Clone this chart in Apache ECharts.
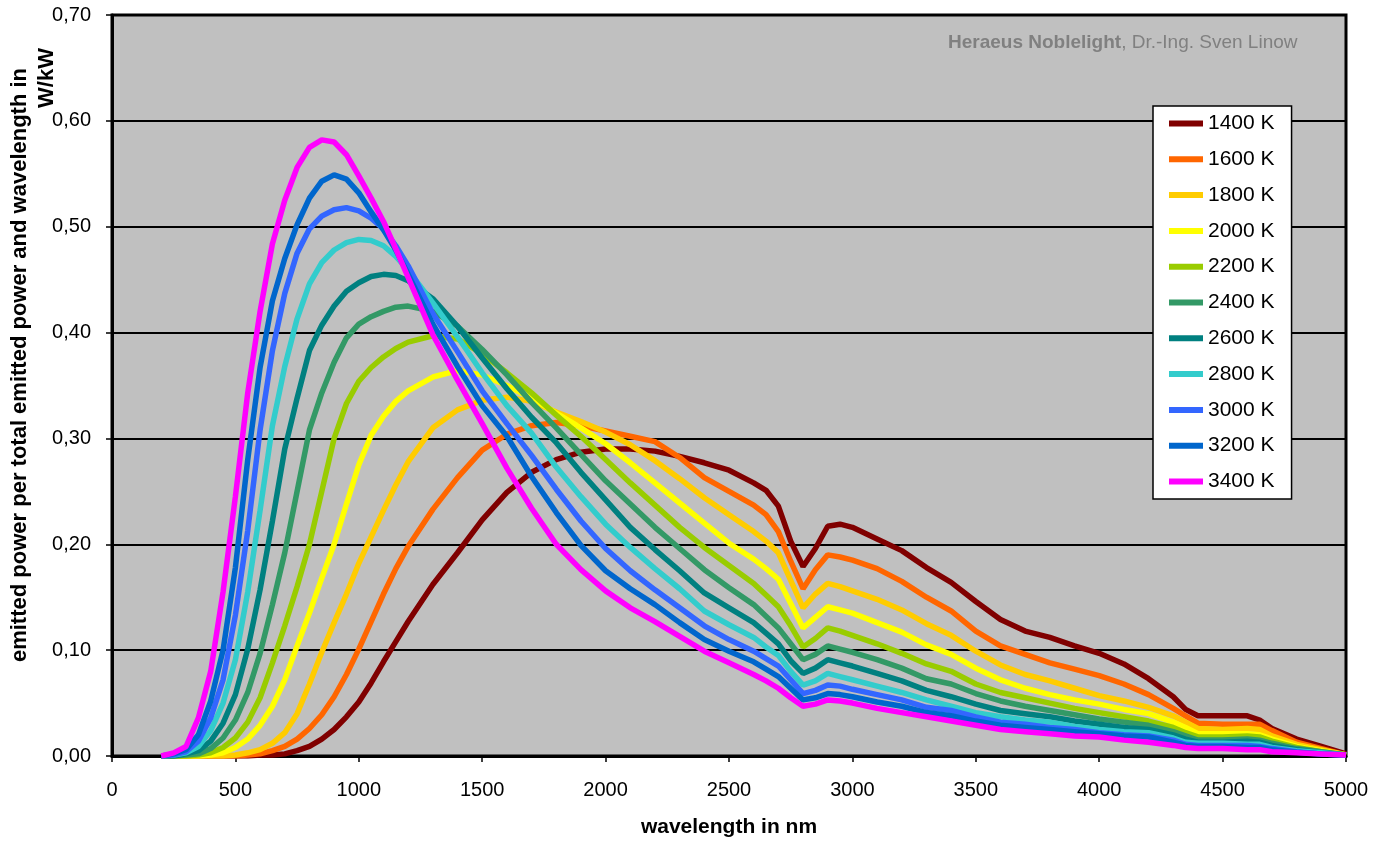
<!DOCTYPE html>
<html>
<head>
<meta charset="utf-8">
<script src="https://cdn.jsdelivr.net/npm/echarts@6/dist/echarts.min.js"></script>
<style>
  html, body { margin: 0; padding: 0; background: #fff; }
  #chart { width: 1379px; height: 843px; }
</style>
</head>
<body>
<div id="chart"></div>
<script>
// wavelength in nm (shared x values)
const wavelengths = [200, 250, 300, 350, 400, 450, 500, 550, 600, 650, 700, 750, 800, 850, 900, 950, 1000, 1050, 1100, 1150, 1200,
  1300, 1400, 1500, 1600, 1700, 1800, 1900, 2000, 2100, 2200, 2300, 2400, 2500, 2600, 2650, 2700, 2750, 2800, 2850, 2900, 2950, 3000,
  3100, 3200, 3300, 3400, 3500, 3600, 3700, 3800, 3900, 4000, 4100, 4200, 4300, 4350, 4400, 4500, 4600, 4650, 4700, 4800, 4900, 5000];

const k1400 = [0, 0, 0, 0, 0, 0, 0, 0, 0.001, 0.001, 0.002, 0.005, 0.009, 0.016, 0.025, 0.037, 0.051, 0.069, 0.089, 0.108, 0.127,
  0.162, 0.192, 0.223, 0.249, 0.268, 0.280, 0.287, 0.290, 0.290, 0.288, 0.283, 0.277, 0.270, 0.258, 0.251, 0.236, 0.203, 0.179, 0.196, 0.217, 0.219, 0.216,
  0.205, 0.194, 0.178, 0.164, 0.146, 0.129, 0.118, 0.112, 0.104, 0.097, 0.087, 0.073, 0.056, 0.044, 0.038, 0.038, 0.038, 0.034, 0.026, 0.016, 0.009, 0.002];
const k1600 = [0, 0, 0, 0, 0, 0, 0, 0.001, 0.002, 0.005, 0.009, 0.016, 0.026, 0.039, 0.056, 0.077, 0.101, 0.127, 0.153, 0.177, 0.198,
  0.233, 0.263, 0.289, 0.304, 0.312, 0.315, 0.312, 0.307, 0.302, 0.297, 0.282, 0.263, 0.250, 0.237, 0.228, 0.212, 0.184, 0.158, 0.176, 0.190, 0.188, 0.185,
  0.177, 0.165, 0.150, 0.137, 0.118, 0.104, 0.096, 0.088, 0.082, 0.076, 0.068, 0.058, 0.045, 0.038, 0.031, 0.030, 0.030, 0.030, 0.024, 0.013, 0.007, 0.001];
const k1800 = [0, 0, 0, 0, 0, 0, 0.001, 0.003, 0.006, 0.012, 0.022, 0.040, 0.068, 0.098, 0.126, 0.153, 0.182, 0.207, 0.232, 0.256, 0.278,
  0.310, 0.327, 0.336, 0.339, 0.335, 0.325, 0.316, 0.306, 0.294, 0.279, 0.262, 0.244, 0.228, 0.212, 0.203, 0.192, 0.166, 0.140, 0.153, 0.163, 0.160, 0.156,
  0.148, 0.138, 0.125, 0.114, 0.099, 0.086, 0.077, 0.071, 0.064, 0.057, 0.052, 0.046, 0.038, 0.032, 0.026, 0.025, 0.026, 0.025, 0.019, 0.011, 0.006, 0.001];
const k2000 = [0, 0, 0, 0, 0.001, 0.003, 0.008, 0.016, 0.029, 0.047, 0.072, 0.104, 0.135, 0.168, 0.200, 0.238, 0.275, 0.303, 0.321, 0.335, 0.345,
  0.358, 0.364, 0.360, 0.350, 0.338, 0.324, 0.310, 0.295, 0.277, 0.258, 0.239, 0.220, 0.201, 0.186, 0.177, 0.167, 0.144, 0.121, 0.131, 0.141, 0.138, 0.135,
  0.126, 0.117, 0.105, 0.096, 0.083, 0.072, 0.064, 0.058, 0.053, 0.049, 0.044, 0.040, 0.032, 0.027, 0.021, 0.021, 0.021, 0.020, 0.016, 0.009, 0.005, 0.001];
const k2200 = [0, 0, 0, 0.001, 0.003, 0.008, 0.017, 0.032, 0.055, 0.088, 0.123, 0.160, 0.200, 0.250, 0.300, 0.333, 0.354, 0.367, 0.377, 0.385, 0.391,
  0.397, 0.394, 0.380, 0.362, 0.343, 0.322, 0.302, 0.280, 0.258, 0.237, 0.216, 0.197, 0.180, 0.163, 0.152, 0.141, 0.123, 0.103, 0.111, 0.121, 0.118, 0.114,
  0.106, 0.097, 0.087, 0.080, 0.068, 0.060, 0.055, 0.050, 0.045, 0.041, 0.037, 0.033, 0.027, 0.022, 0.018, 0.018, 0.019, 0.018, 0.014, 0.008, 0.004, 0.001];
const k2400 = [0, 0, 0.001, 0.002, 0.007, 0.017, 0.034, 0.060, 0.097, 0.143, 0.192, 0.250, 0.308, 0.343, 0.372, 0.395, 0.408, 0.415, 0.420, 0.424, 0.425,
  0.420, 0.406, 0.384, 0.360, 0.334, 0.310, 0.285, 0.260, 0.238, 0.216, 0.196, 0.176, 0.159, 0.143, 0.132, 0.121, 0.106, 0.091, 0.096, 0.104, 0.101, 0.098,
  0.091, 0.083, 0.073, 0.068, 0.059, 0.052, 0.047, 0.043, 0.039, 0.035, 0.032, 0.029, 0.023, 0.019, 0.015, 0.015, 0.016, 0.015, 0.012, 0.007, 0.004, 0.001];
const k2600 = [0, 0, 0.002, 0.005, 0.014, 0.031, 0.058, 0.101, 0.157, 0.222, 0.290, 0.338, 0.383, 0.407, 0.425, 0.439, 0.447, 0.453, 0.455, 0.454, 0.449,
  0.432, 0.406, 0.376, 0.347, 0.320, 0.296, 0.268, 0.242, 0.216, 0.195, 0.175, 0.154, 0.140, 0.126, 0.116, 0.106, 0.090, 0.078, 0.083, 0.091, 0.088, 0.085,
  0.078, 0.071, 0.062, 0.056, 0.049, 0.043, 0.040, 0.037, 0.033, 0.030, 0.027, 0.025, 0.020, 0.016, 0.013, 0.013, 0.014, 0.013, 0.010, 0.006, 0.003, 0.001];
const k2800 = [0, 0.001, 0.003, 0.009, 0.024, 0.050, 0.091, 0.155, 0.232, 0.312, 0.368, 0.413, 0.446, 0.466, 0.478, 0.485, 0.488, 0.487, 0.482, 0.472, 0.459,
  0.428, 0.396, 0.362, 0.331, 0.305, 0.273, 0.245, 0.219, 0.197, 0.177, 0.158, 0.137, 0.124, 0.112, 0.103, 0.095, 0.080, 0.067, 0.071, 0.078, 0.075, 0.072,
  0.066, 0.060, 0.053, 0.047, 0.041, 0.037, 0.034, 0.032, 0.028, 0.025, 0.023, 0.022, 0.017, 0.013, 0.012, 0.012, 0.011, 0.011, 0.008, 0.005, 0.003, 0.001];
const k3000 = [0, 0.001, 0.004, 0.014, 0.036, 0.072, 0.133, 0.213, 0.308, 0.383, 0.437, 0.475, 0.498, 0.510, 0.516, 0.518, 0.515, 0.508, 0.498, 0.482, 0.463,
  0.418, 0.382, 0.345, 0.314, 0.284, 0.252, 0.222, 0.196, 0.175, 0.157, 0.140, 0.123, 0.110, 0.099, 0.092, 0.085, 0.072, 0.059, 0.062, 0.067, 0.066, 0.063,
  0.058, 0.053, 0.046, 0.043, 0.037, 0.032, 0.030, 0.027, 0.025, 0.022, 0.020, 0.019, 0.015, 0.011, 0.010, 0.010, 0.010, 0.009, 0.007, 0.004, 0.002, 0.001];
const k3200 = [0, 0.002, 0.006, 0.020, 0.052, 0.100, 0.178, 0.280, 0.367, 0.430, 0.470, 0.502, 0.527, 0.543, 0.549, 0.545, 0.532, 0.514, 0.497, 0.478, 0.455,
  0.408, 0.368, 0.331, 0.302, 0.264, 0.230, 0.199, 0.175, 0.158, 0.143, 0.126, 0.110, 0.099, 0.089, 0.082, 0.075, 0.064, 0.053, 0.055, 0.059, 0.058, 0.056,
  0.051, 0.047, 0.041, 0.038, 0.033, 0.029, 0.027, 0.025, 0.023, 0.021, 0.019, 0.018, 0.013, 0.010, 0.009, 0.009, 0.008, 0.008, 0.006, 0.0035, 0.002, 0.001];
const k3400 = [0, 0.003, 0.009, 0.036, 0.080, 0.155, 0.245, 0.343, 0.420, 0.484, 0.525, 0.556, 0.575, 0.582, 0.580, 0.568, 0.548, 0.527, 0.505, 0.479, 0.452,
  0.398, 0.355, 0.314, 0.272, 0.234, 0.200, 0.176, 0.156, 0.140, 0.127, 0.113, 0.099, 0.088, 0.077, 0.071, 0.064, 0.055, 0.047, 0.049, 0.053, 0.052, 0.050,
  0.045, 0.041, 0.037, 0.033, 0.029, 0.025, 0.023, 0.021, 0.019, 0.018, 0.015, 0.013, 0.010, 0.008, 0.007, 0.007, 0.006, 0.006, 0.004, 0.003, 0.002, 0.001];

const names = ['1400 K', '1600 K', '1800 K', '2000 K', '2200 K', '2400 K', '2600 K', '2800 K', '3000 K', '3200 K', '3400 K'];
const values = [k1400, k1600, k1800, k2000, k2200, k2400, k2600, k2800, k3000, k3200, k3400];
const colors = ['#800000', '#FF6600', '#FFCC00', '#FFFF00', '#99CC00', '#339966', '#008080', '#33CCCC', '#3366FF', '#0066CC', '#FF00FF'];

const FONT = '"Liberation Sans", Arial, sans-serif';

let chart = echarts.init(document.getElementById('chart'));

chart.setOption({
  animation: false,
  color: colors,
  textStyle: { fontFamily: FONT },
  grid: {
    left: 112, right: 33, top: 15, bottom: 86,
    show: true, backgroundColor: '#C0C0C0', borderColor: '#000', borderWidth: 3
  },
  legend: {
    orient: 'vertical',
    left: 1153, top: 106,
    backgroundColor: '#fff', borderColor: '#000', borderWidth: 1.5,
    padding: [7, 17, 7, 16],
    itemGap: 14.8,
    itemWidth: 34, itemHeight: 6,
    icon: 'rect',
    textStyle: { fontSize: 21, color: '#000', fontFamily: FONT },
    data: names
  },
  xAxis: {
    type: 'value', min: 0, max: 5000, interval: 500,
    name: 'wavelength in nm', nameLocation: 'middle', nameGap: 61,
    nameTextStyle: { fontSize: 21, fontWeight: 'bold', color: '#000', fontFamily: FONT },
    axisLine: { lineStyle: { color: '#000', width: 3 } },
    axisTick: { show: true, length: 6, lineStyle: { color: '#000', width: 1.5 } },
    axisLabel: { fontSize: 20, color: '#000', margin: 24, formatter: v => String(v) },
    splitLine: { show: false }
  },
  yAxis: {
    type: 'value', min: 0, max: 0.7, interval: 0.1,
    axisLine: { show: true, lineStyle: { color: '#000', width: 3 } },
    axisTick: { show: true, length: 6, lineStyle: { color: '#000', width: 1.5 } },
    axisLabel: {
      fontSize: 20, color: '#000', margin: 21,
      formatter: v => v.toFixed(2).replace('.', ',')
    },
    splitLine: { lineStyle: { color: '#000', width: 1.8 } }
  },
  graphic: [
    {
      type: 'text', x: 20, y: 365, rotation: Math.PI / 2,
      style: {
        text: 'emitted power per total emitted power and wavelength in',
        font: 'bold 22px ' + FONT, fill: '#000', align: 'center', verticalAlign: 'middle'
      }
    },
    {
      type: 'text', x: 47, y: 78, rotation: Math.PI / 2,
      style: { text: 'W/kW', font: 'bold 22px ' + FONT, fill: '#000', align: 'center', verticalAlign: 'middle' }
    },
    {
      type: 'text', x: 948, y: 43,
      style: {
        text: '{b|Heraeus Noblelight}{n|, Dr.-Ing. Sven Linow}',
        verticalAlign: 'middle',
        rich: {
          b: { fontWeight: 'bold', fontSize: 19, fill: '#808080', fontFamily: FONT },
          n: { fontSize: 19, fill: '#808080', fontFamily: FONT }
        }
      }
    }
  ],
  series: names.map((name, i) => ({
    name: name,
    type: 'line',
    showSymbol: false,
    symbol: 'none',
    lineStyle: { width: 5.5, color: colors[i] },
    data: wavelengths.map((w, j) => [w, values[i][j]])
  }))
});

window.onresize = function () {
  chart.resize();
};
</script>
</body>
</html>
